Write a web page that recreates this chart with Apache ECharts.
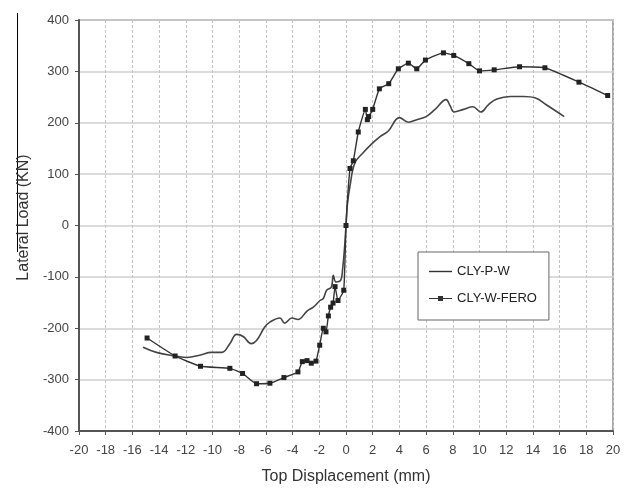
<!DOCTYPE html>
<html>
<head>
<meta charset="utf-8">
<script src="https://cdn.jsdelivr.net/npm/echarts@6/dist/echarts.min.js"></script>
<style>
html,body{margin:0;padding:0;background:#fff;}
#c{width:633px;height:490px;}
</style>
</head>
<body>
<div id="c"></div>
<script>
// CLY-P-W (plain wall) curve
const pwX = [-15.2,-14.2,-12.8,-11.9,-10.9,-10.1,-9.3,-8.7,-8.2,-7.7,-7.1,-6.7,-6.1,-5.7,-4.95,-4.6,-4.05,-3.6,-2.9,-2.45,-1.95,-1.7,-1.45,-1.1,-0.95,-0.75,-0.4,-0.25,-0.1,0,
             0.1,0.3,0.67,1.3,1.85,2.55,3.17,4.0,4.67,5.3,6.0,6.67,7.5,7.8,8.1,8.8,9.5,10.1,10.66,11.3,12.3,13.3,14.2,15.0,16.35];
const pwY = [-237,-247,-254,-257,-252,-247,-247,-230,-212,-216,-230,-224,-198,-188,-180,-190,-180,-183,-166,-159,-146,-142,-126,-120,-97,-110,-107,-84,-40,0,
             40,77,122,142,157,173,184,210,201,206,212,226,245,233,221,226,231,221,235,246,251,251,248,235,212];

// CLY-W-FERO (ferrocement retrofitted) curve
const feX = [-14.9,-12.8,-10.9,-8.7,-7.75,-6.7,-5.7,-4.65,-3.6,-3.27,-2.92,-2.6,-2.25,-1.97,-1.7,-1.5,-1.32,-1.15,-0.97,-0.82,-0.6,-0.17,0,
             0.3,0.55,0.92,1.45,1.6,1.7,2.0,2.5,3.2,3.92,4.67,5.3,5.95,7.3,8.07,9.2,10.0,11.1,13.0,14.9,17.45,19.6];
const feY = [-219,-254,-274,-278,-288,-308,-307,-296,-285,-265,-263,-268,-264,-233,-200,-207,-176,-159,-151,-119,-146,-126,0,
             111,126,182,226,206,212,226,266,276,305,316,305,322,336,331,315,301,303,309,307,279,253];

const seriesNames = ['CLY-P-W','CLY-W-FERO'];
const xTicks = {min:-20, max:20, step:2};
const yTicks = {min:-400, max:400, step:100};

const pwData = pwX.map((x,i)=>[x,pwY[i]]);
const feData = feX.map((x,i)=>[x,feY[i]]);

const chart = echarts.init(document.getElementById('c'), null, {renderer:'canvas'});
const font = 'Liberation Sans, Arial, sans-serif';
chart.setOption({
  animation:false,
  backgroundColor:'#fff',
  grid:{left:79,right:20,top:20,bottom:57,show:true,borderColor:'#8a8a8a',borderWidth:1.5,backgroundColor:'transparent'},
  xAxis:{
    type:'value',min:xTicks.min,max:xTicks.max,interval:xTicks.step,
    name:'Top Displacement (mm)',nameLocation:'middle',nameGap:38,
    nameTextStyle:{fontFamily:font,fontSize:16,color:'#333'},
    axisLine:{onZero:false,lineStyle:{color:'#555',width:2}},
    axisTick:{show:true,length:4,lineStyle:{color:'#555'}},
    axisLabel:{fontFamily:font,fontSize:13,color:'#444',margin:13},
    splitLine:{show:true,lineStyle:{color:'#c4c4c4',type:[3,2],width:1}}
  },
  yAxis:{
    type:'value',min:yTicks.min,max:yTicks.max,interval:yTicks.step,
    name:'Lateral Load (KN)',nameLocation:'middle',nameGap:46,
    nameTextStyle:{fontFamily:font,fontSize:16,color:'#333',padding:[0,0,0,16]},
    axisLine:{onZero:false,lineStyle:{color:'#555',width:2}},
    axisTick:{show:true,length:4,lineStyle:{color:'#555'}},
    axisLabel:{fontFamily:font,fontSize:13,color:'#444',margin:10},
    splitLine:{show:true,lineStyle:{color:'#cfcfcf',width:1.5}}
  },
  legend:{
    left:418,top:252,orient:'vertical',
    padding:[13,12,15,11],itemGap:14,itemWidth:23,itemHeight:14,
    borderColor:'#666',borderWidth:1,backgroundColor:'#fff',
    textStyle:{fontFamily:font,fontSize:13,color:'#222'},
    data:[
      {name:seriesNames[0],icon:'path://M0,6.3H23V7.7H0Z',itemStyle:{color:'#333',borderWidth:0},lineStyle:{width:0}},
      {name:seriesNames[1],icon:'path://M0,4.5H0.01V9.5H0Z M0,6.4H23V7.6H0Z M9,4.5H14V9.5H9Z M22.99,4.5H23V9.5H22.99Z',itemStyle:{color:'#333',borderWidth:0},lineStyle:{width:0}}
    ]
  },
  series:[
    {name:seriesNames[0],type:'line',data:pwData,symbol:'none',smooth:0.4,
     lineStyle:{color:'#444',width:1.6},itemStyle:{color:'#444'}},
    {name:seriesNames[1],type:'line',data:feData,symbol:'rect',symbolSize:5,smooth:0.15,
     lineStyle:{color:'#333',width:1.4},itemStyle:{color:'#222'}}
  ],
  graphic:[
    {type:'line',shape:{x1:17.5,y1:13,x2:17.5,y2:252},style:{stroke:'#000',lineWidth:1}}
  ]
});
</script>
</body>
</html>
